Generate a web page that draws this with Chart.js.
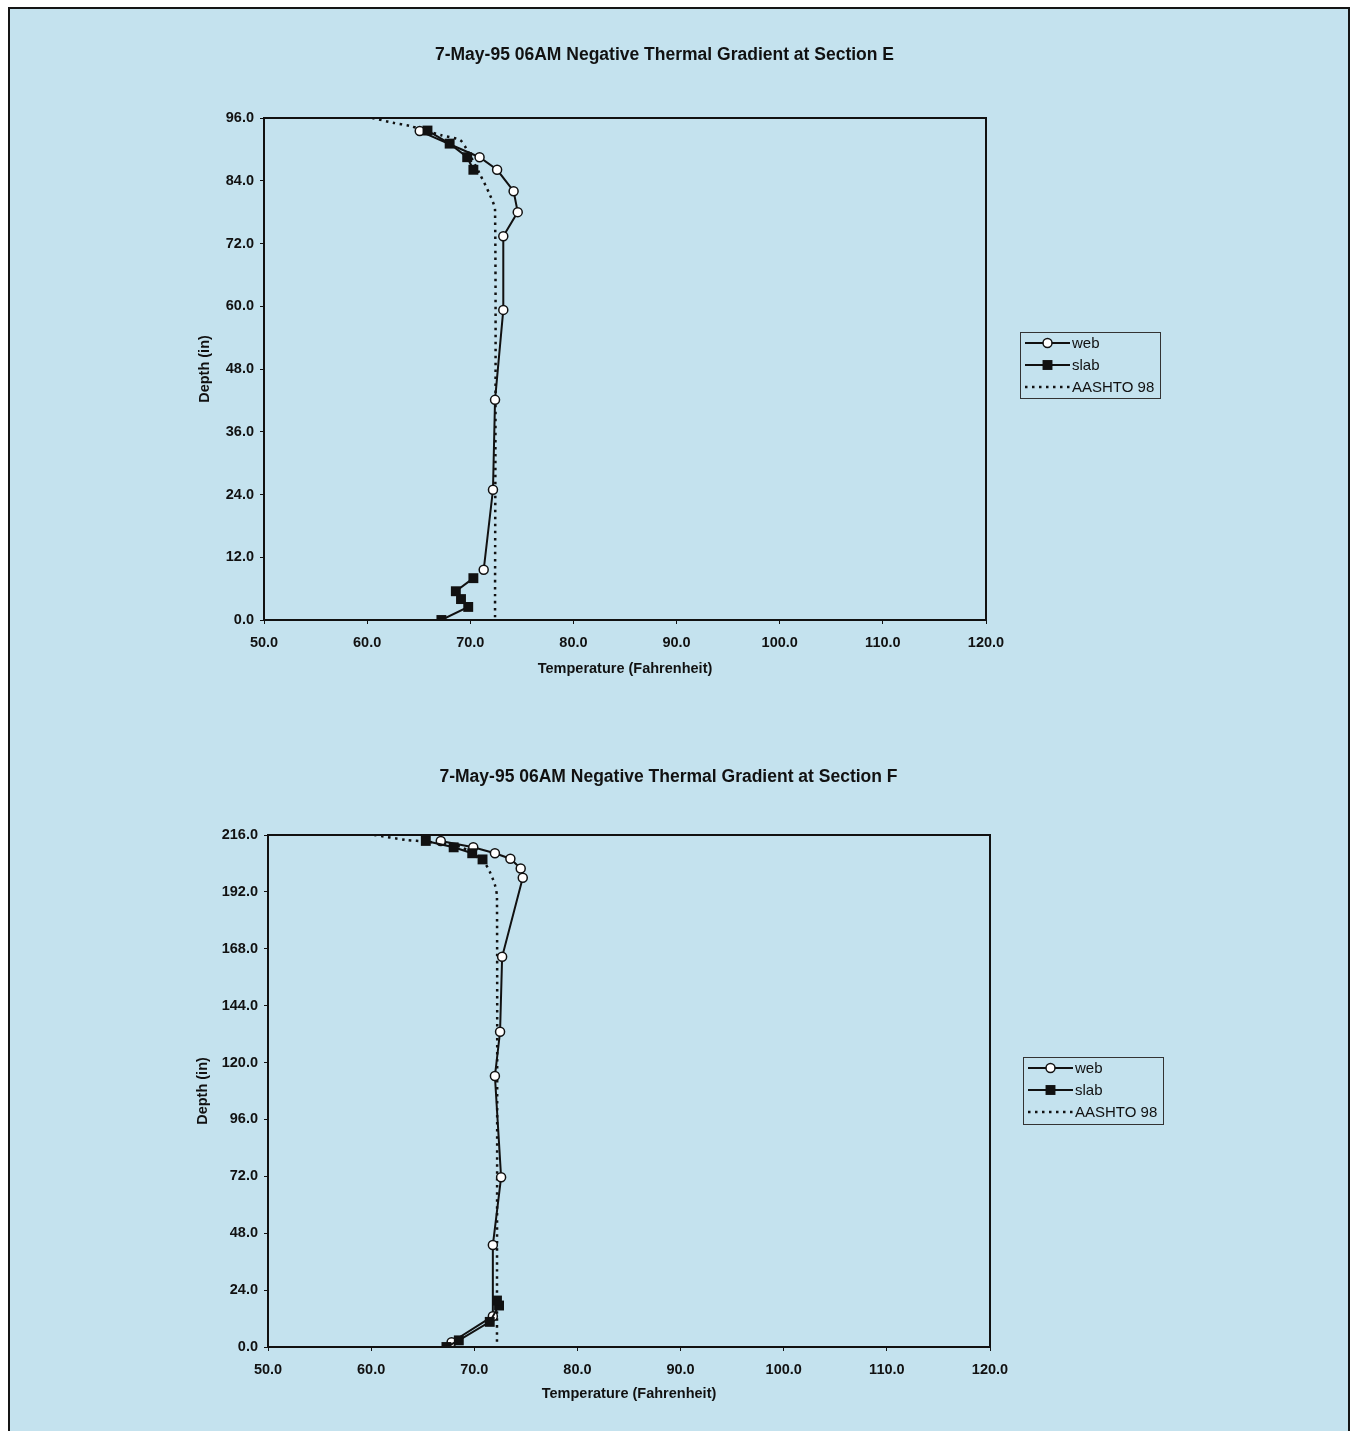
<!DOCTYPE html>
<html>
<head>
<meta charset="utf-8">
<script src="https://cdn.jsdelivr.net/npm/chart.js@4.4.1/dist/chart.umd.min.js"></script>
<style>
  html, body { margin: 0; padding: 0; background: #ffffff; width: 1353px; height: 1431px; overflow: hidden; }
  #frame { position: absolute; left: 8px; top: 7px; width: 1338px; height: 1440px; border: 2px solid #151515; background: #c4e2ee; }
  canvas { position: absolute; }
</style>
</head>
<body>
<div id="frame"></div>
<canvas id="chartE" width="1353" height="700" style="left:0px; top:0px; width:1353px; height:700px;"></canvas>
<canvas id="chartF" width="1353" height="711" style="left:0px; top:720px; width:1353px; height:711px;"></canvas>
<script>
// ---------------- data: Section E ----------------
const titleE = '7-May-95 06AM Negative Thermal Gradient at Section E';
const webE_temp   = [65.1, 70.9, 72.6, 74.2, 74.6, 73.2, 73.2, 72.4, 72.2, 71.3];
const webE_depth  = [93.5, 88.5, 86.1, 82.0, 78.0, 73.4, 59.3, 42.1, 24.9, 9.6];
const slabE_temp  = [67.2, 69.8, 69.1, 68.6, 70.3, null, 70.3, 69.7, 68.0, 65.85];
const slabE_depth = [0.0, 2.5, 4.0, 5.5, 8.0, null, 86.1, 88.5, 91.1, 93.6];
const aashtoE_temp  = [60.5, 62.5, 64.1, 67.2, 69.0, 69.6, 70.9, 71.9, 72.4, 72.4];
const aashtoE_depth = [96.0, 95.1, 94.5, 92.7, 91.8, 90.2, 85.4, 81.3, 78.4, 0.0];
const depthTicksE = [0, 12, 24, 36, 48, 60, 72, 84, 96];

// ---------------- data: Section F ----------------
const titleF = '7-May-95 06AM Negative Thermal Gradient at Section F';
const webF_temp   = [66.75, 69.9, 72.0, 73.5, 74.5, 74.7, 72.7, 72.5, 72.0, 72.6, 71.8, 71.8, 67.8];
const webF_depth  = [213.5, 210.8, 208.3, 206.0, 201.9, 198.0, 164.6, 133.0, 114.3, 71.6, 43.0, 13.0, 2.0];
const slabF_temp  = [67.3, 68.5, 71.5, 72.4, 72.2, null, 70.8, 69.8, 68.0, 65.3];
const slabF_depth = [0.0, 2.8, 10.6, 17.5, 19.6, null, 205.7, 208.3, 210.8, 213.5];
const aashtoF_temp  = [60.3, 63.4, 65.4, 68.6, 70.9, 71.5, 72.0, 72.2, 72.2];
const aashtoF_depth = [216.0, 213.9, 213.2, 211.1, 204.7, 200.5, 195.0, 190.0, 0.0];
const depthTicksF = [0, 24, 48, 72, 96, 120, 144, 168, 192, 216];

// ---------------- shared axis / legend text ----------------
const tempTicks = [50, 60, 70, 80, 90, 100, 110, 120];
const xTitle = 'Temperature (Fahrenheit)';
const yTitle = 'Depth (in)';
const seriesNames = ['web', 'slab', 'AASHTO 98'];

const FONT = "Arial, 'Liberation Sans', sans-serif";
const INK = '#111111';

function pts(xs, ys) {
  return xs.map((x, i) => ({ x: x, y: ys[i] }));
}

// frame around chart area
const frameBox = {
  id: 'frameBox',
  afterDatasetsDraw(chart) {
    const a = chart.chartArea, ctx = chart.ctx;
    ctx.save();
    ctx.strokeStyle = INK;
    ctx.lineWidth = 2;
    ctx.strokeRect(a.left, a.top, a.right - a.left, a.bottom - a.top);
    ctx.restore();
  }
};

// chart title placed at a given centre
const placedTitle = {
  id: 'placedTitle',
  afterDraw(chart, args, opts) {
    const ctx = chart.ctx;
    ctx.save();
    ctx.font = 'bold 17.5px ' + FONT;
    ctx.fillStyle = INK;
    ctx.textAlign = 'center';
    ctx.textBaseline = 'middle';
    ctx.fillText(opts.text, opts.cx, opts.cy);
    ctx.restore();
  }
};

// boxed legend drawn with dataset styles
const boxLegend = {
  id: 'boxLegend',
  afterDraw(chart, args, opts) {
    const ctx = chart.ctx;
    const { x, y, w, h, rowH, lineLen } = opts;
    ctx.save();
    ctx.strokeStyle = '#333';
    ctx.lineWidth = 1;
    ctx.strokeRect(x + 0.5, y + 0.5, w, h);
    ctx.font = '15px ' + FONT;
    ctx.textBaseline = 'middle';
    chart.data.datasets.forEach((ds, i) => {
      const cy = y + 11 + i * rowH;
      const x0 = x + 5, x1 = x0 + lineLen;
      ctx.strokeStyle = ds.borderColor;
      ctx.lineWidth = ds.borderWidth;
      ctx.setLineDash(ds.borderDash || []);
      ctx.beginPath();
      ctx.moveTo(x0, cy);
      ctx.lineTo(x1, cy);
      ctx.stroke();
      ctx.setLineDash([]);
      const cx = (x0 + x1) / 2;
      if (ds.pointRadius > 0) {
        ctx.fillStyle = ds.pointBackgroundColor;
        ctx.strokeStyle = ds.pointBorderColor;
        ctx.lineWidth = ds.pointBorderWidth;
        if (ds.pointStyle === 'rect') {
          const r = ds.pointRadius * Math.SQRT1_2;
          ctx.fillRect(cx - r, cy - r, 2 * r, 2 * r);
        } else {
          ctx.beginPath();
          ctx.arc(cx, cy, ds.pointRadius, 0, Math.PI * 2);
          ctx.fill();
          ctx.stroke();
        }
      }
      ctx.fillStyle = INK;
      ctx.fillText(ds.label, x1 + 2, cy + 1);
    });
    ctx.restore();
  }
};

function makeChart(id, cfg) {
  const datasets = [
    {
      label: seriesNames[0],
      data: pts(cfg.web[0], cfg.web[1]),
      showLine: true, borderColor: INK, borderWidth: 2,
      pointStyle: 'circle', pointRadius: 4.5, pointBackgroundColor: '#ffffff',
      pointBorderColor: INK, pointBorderWidth: 1.5, tension: 0, order: 1
    },
    {
      label: seriesNames[1],
      data: pts(cfg.slab[0], cfg.slab[1]),
      showLine: true, spanGaps: false, borderColor: INK, borderWidth: 2,
      pointStyle: 'rect', pointRadius: 7, pointBackgroundColor: INK,
      pointBorderColor: INK, pointBorderWidth: 0, tension: 0, order: 0
    },
    {
      label: seriesNames[2],
      data: pts(cfg.aashto[0], cfg.aashto[1]),
      showLine: true, borderColor: INK, borderWidth: 2.5, borderDash: [2.5, 4.5],
      pointRadius: 0, pointStyle: 'circle', tension: 0.25, order: 2
    }
  ];
  const tickFont = { family: FONT, size: 14.5, weight: 'bold' };
  return new Chart(document.getElementById(id), {
    type: 'scatter',
    data: { datasets },
    options: {
      responsive: false,
      animation: false,
      devicePixelRatio: 1,
      layout: { padding: cfg.padding },
      plugins: {
        legend: { display: false },
        tooltip: { enabled: false },
        title: { display: false },
        placedTitle: cfg.title,
        boxLegend: cfg.legend
      },
      scales: {
        x: {
          type: 'linear', min: 50, max: 120,
          afterBuildTicks: (s) => { s.ticks = tempTicks.map(v => ({ value: v })); },
          afterFit: (s) => { s.height = cfg.xHeight; },
          grid: { display: true, drawOnChartArea: false, drawTicks: true, tickLength: 4, color: INK, lineWidth: 1 },
          border: { display: true, color: INK, width: 2 },
          ticks: { color: INK, padding: 10, maxRotation: 0, font: tickFont,
                   callback: (v) => Number(v).toFixed(1) },
          title: { display: true, text: xTitle, color: INK, font: tickFont,
                   padding: { top: 0, bottom: cfg.xTitlePad } }
        },
        y: {
          type: 'linear', min: 0, max: cfg.yMax,
          afterBuildTicks: (s) => { s.ticks = cfg.yTicks.map(v => ({ value: v })); },
          afterFit: (s) => { s.width = 80; },
          grid: { display: true, drawOnChartArea: false, drawTicks: true, tickLength: 4, color: INK, lineWidth: 1 },
          border: { display: true, color: INK, width: 2 },
          ticks: { color: INK, padding: 6, font: tickFont,
                   callback: (v) => Number(v).toFixed(1) },
          title: { display: true, text: yTitle, color: INK, font: tickFont,
                   padding: { top: cfg.yTitlePad, bottom: 0 } }
        }
      }
    },
    plugins: [frameBox, placedTitle, boxLegend]
  });
}

// Section E: canvas at page (0, 0); plot area x 264..986, y 118..620
makeChart('chartE', {
  title: { text: titleE, cx: 664.5, cy: 55 },
  web: [webE_temp, webE_depth],
  slab: [slabE_temp, slabE_depth],
  aashto: [aashtoE_temp, aashtoE_depth],
  yMax: 96, yTicks: depthTicksE,
  padding: { left: 184, right: 367, top: 118, bottom: 0 },
  xHeight: 80, xTitlePad: 22, yTitlePad: 12,
  legend: { x: 1020, y: 332, w: 140, h: 66, rowH: 22, lineLen: 45 }
});

// Section F: canvas at page (0, 720); plot area x 268..990, page y 835..1347
makeChart('chartF', {
  title: { text: titleF, cx: 668.5, cy: 57 },
  web: [webF_temp, webF_depth],
  slab: [slabF_temp, slabF_depth],
  aashto: [aashtoF_temp, aashtoF_depth],
  yMax: 216, yTicks: depthTicksF,
  padding: { left: 188, right: 363, top: 115, bottom: 0 },
  xHeight: 84, xTitlePad: 28, yTitlePad: 6,
  legend: { x: 1023, y: 337, w: 140, h: 67, rowH: 22, lineLen: 45 }
});
</script>
</body>
</html>
